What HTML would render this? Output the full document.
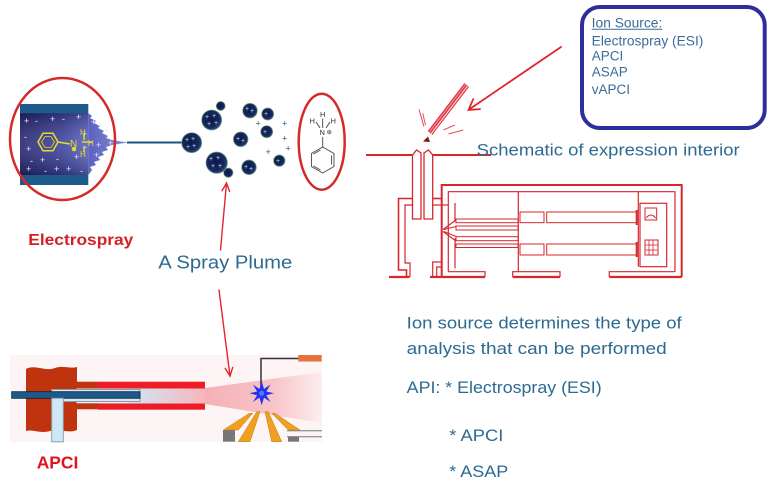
<!DOCTYPE html>
<html>
<head>
<meta charset="utf-8">
<style>
html,body{margin:0;padding:0;background:#fff;}
svg{display:block;}
</style>
</head>
<body>
<svg xmlns="http://www.w3.org/2000/svg" width="772" height="485" viewBox="0 0 772 485">
<defs>
  <linearGradient id="capBody" x1="0" y1="0" x2="1" y2="0">
    <stop offset="0" stop-color="#24246e"/>
    <stop offset="0.6" stop-color="#3a3f9a"/>
    <stop offset="1" stop-color="#5a62c0"/>
  </linearGradient>
  <linearGradient id="capV" x1="0" y1="0" x2="0" y2="1">
    <stop offset="0" stop-color="#000" stop-opacity="0.25"/>
    <stop offset="0.5" stop-color="#fff" stop-opacity="0.12"/>
    <stop offset="1" stop-color="#000" stop-opacity="0.25"/>
  </linearGradient>
  <linearGradient id="cone" x1="0" y1="0" x2="1" y2="0">
    <stop offset="0" stop-color="#5a62c0"/>
    <stop offset="1" stop-color="#8a90d8"/>
  </linearGradient>
  <radialGradient id="drop" cx="0.45" cy="0.45" r="0.55">
    <stop offset="0" stop-color="#0b1a46"/>
    <stop offset="0.75" stop-color="#13295e"/>
    <stop offset="1" stop-color="#2a4c86"/>
  </radialGradient>
  <linearGradient id="plume" x1="0" y1="0" x2="1" y2="0">
    <stop offset="0" stop-color="#f5b0b5"/>
    <stop offset="0.6" stop-color="#f8c5c9"/>
    <stop offset="1" stop-color="#fdeef0"/>
  </linearGradient>
  <linearGradient id="glow" x1="0" y1="0" x2="1" y2="0">
    <stop offset="0" stop-color="#cfe7f7"/>
    <stop offset="1" stop-color="#f6b6bb"/>
  </linearGradient>
</defs>

<rect width="772" height="485" fill="#fff"/>

<!-- ================= ESI capillary ================= -->
<rect x="20" y="104" width="68.3" height="9.5" fill="#1c5b8c"/>
<rect x="20" y="175" width="68.3" height="10" fill="#1c5b8c"/>
<rect x="20" y="113.3" width="68.3" height="61.7" fill="url(#capBody)"/>
<rect x="20" y="113.3" width="68.3" height="61.7" fill="url(#capV)"/>
<polygon points="88.3,113.3 92,116 90,118 96,121 94,123 100,126 98,128 104,131 102,133 108,136 106,138 112,140 128.3,142.5 112,145 106,147 108,150 102,152 104,155 98,157 100,160 94,162 96,165 90,167 92,170 88.3,175" fill="url(#cone)"/>
<g font-family="Liberation Sans, sans-serif" font-size="9" fill="#e4e6ff">
  <text x="24" y="124">+</text><text x="35" y="124">-</text><text x="50" y="122">+</text><text x="62" y="122">-</text>
  <text x="76" y="120">+</text><text x="91" y="125">+</text><text x="98" y="129">+</text><text x="104" y="133">+</text>
  <text x="24" y="140">-</text><text x="26" y="152">+</text><text x="30" y="164">-</text><text x="40" y="163">+</text>
  <text x="56" y="162">-</text><text x="74" y="160">+</text><text x="84" y="150">-</text><text x="96" y="148">+</text>
  <text x="108" y="146">+</text><text x="26" y="172">+</text><text x="44" y="174">-</text><text x="54" y="172">+</text>
  <text x="66" y="172">+</text><text x="80" y="174">-</text><text x="82" y="137">+</text><text x="94" y="158">+</text>
</g>
<!-- yellow aniline in capillary -->
<g stroke="#e4dc2a" stroke-width="1.5" fill="none">
  <polygon points="58,142 53,150.7 43,150.7 38,142 43,133.3 53,133.3"/>
  <polygon points="54.5,142 51,147.5 45,147.5 41.5,142 45,136.5 51,136.5" stroke-width="0.8"/>
  <line x1="58" y1="142" x2="70" y2="144"/>
  <line x1="82" y1="142" x2="92" y2="142"/>
  <line x1="84" y1="134" x2="84" y2="140"/>
  <line x1="84" y1="146" x2="84" y2="152"/>
</g>
<circle cx="74" cy="149" r="2.3" fill="#e4dc2a"/>
<g font-family="Liberation Sans, sans-serif" font-size="10" fill="#e4dc2a">
  <text x="70" y="147">N</text><text x="80" y="135" font-size="8">H</text><text x="88" y="146" font-size="8">H</text><text x="80" y="157" font-size="8">H</text>
</g>
<!-- line to droplets -->
<line x1="127" y1="142.5" x2="183" y2="142.5" stroke="#1d4f7e" stroke-width="2"/>
<!-- red ellipse around capillary -->
<ellipse cx="62.5" cy="139" rx="52.5" ry="61" fill="none" stroke="#d42a2a" stroke-width="2.5"/>

<!-- droplets -->
<g fill="url(#drop)" stroke="#7d9a7a" stroke-width="0.7">
  <circle cx="191.7" cy="142.7" r="10"/>
  <circle cx="220.7" cy="106" r="4.5"/>
  <circle cx="211.7" cy="120" r="10"/>
  <circle cx="228.3" cy="172.7" r="4.7"/>
  <circle cx="216.7" cy="162.7" r="10.7"/>
  <circle cx="250" cy="110.7" r="7.3"/>
  <circle cx="267.7" cy="114" r="6"/>
  <circle cx="240.7" cy="139.3" r="7.3"/>
  <circle cx="266.7" cy="131.7" r="6"/>
  <circle cx="249" cy="167.3" r="7.3"/>
  <circle cx="279.3" cy="160.7" r="5.7"/>
</g>
<g font-family="Liberation Sans, sans-serif" font-size="7" fill="#d8dcf0">
  <text x="185" y="142">+</text><text x="191" y="141">+</text><text x="186" y="149">+</text><text x="192" y="148">+</text>
  <text x="205" y="119">+</text><text x="212" y="118">+</text><text x="207" y="126">+</text><text x="214" y="125">+</text>
  <text x="209" y="161">+</text><text x="216" y="160">+</text><text x="211" y="168">+</text><text x="218" y="168">+</text>
  <text x="245" y="111">+</text><text x="250" y="113">+</text>
  <text x="236" y="141">+</text><text x="241" y="143">+</text>
  <text x="244" y="169">+</text><text x="249" y="171">+</text>
  <text x="264" y="116">+</text><text x="263" y="134">+</text><text x="276" y="163">+</text>
</g>
<g font-family="Liberation Sans, sans-serif" font-size="9" fill="#3a5a7a">
  <text x="255.5" y="126.5">+</text><text x="282" y="126.5">+</text><text x="282" y="141.5">+</text>
  <text x="285.5" y="151.5">+</text><text x="265.5" y="155">+</text>
</g>

<!-- aniline in right ellipse -->
<ellipse cx="321.7" cy="141.7" rx="23" ry="48" fill="none" stroke="#d42a2a" stroke-width="2.5"/>
<g font-family="Liberation Sans, sans-serif" font-size="7.5" fill="#333">
  <text x="320" y="117">H</text><text x="309.5" y="123.5">H</text><text x="330.5" y="123.5">H</text>
  <text x="319.5" y="135">N</text><text x="326.5" y="134" font-size="6.5">⊕</text>
</g>
<g stroke="#444" stroke-width="0.9" fill="none">
  <line x1="322.7" y1="118.5" x2="322.7" y2="128"/>
  <line x1="316" y1="122" x2="320" y2="128"/>
  <line x1="330" y1="122" x2="326" y2="128"/>
  <line x1="322.7" y1="137" x2="322.7" y2="147"/>
  <polygon points="322.7,147 333.96,153.5 333.96,166.5 322.7,173 311.44,166.5 311.44,153.5"/>
  <line x1="331.5" y1="155.5" x2="331.5" y2="164.5"/>
  <line x1="320.5" y1="170" x2="313.5" y2="166"/>
  <line x1="313.5" y1="154" x2="320.5" y2="150"/>
</g>

<!-- labels left -->
<text x="28.3" y="245" font-family="Liberation Sans, sans-serif" font-weight="bold" font-size="16" fill="#d42027" textLength="105" lengthAdjust="spacingAndGlyphs">Electrospray</text>
<text x="158.3" y="268.3" font-family="Liberation Sans, sans-serif" font-size="18.5" fill="#2d6a91" textLength="134" lengthAdjust="spacingAndGlyphs">A Spray Plume</text>

<!-- ================= APCI ================= -->
<rect x="10" y="355" width="312" height="87" fill="#fdf5f5"/>
<polygon points="205,388 322,372 322,423 205,404" fill="url(#plume)"/>
<path d="M26,369 C35,364 45,372 55,368 C63,365 70,369 77,367 L77,430 C68,434 60,428 50,431 C40,434 33,429 26,431 Z" fill="#c0330f"/>
<rect x="76.5" y="381.7" width="22" height="27.6" fill="#c0330f"/>
<rect x="98" y="381.7" width="107" height="6.8" fill="#ee1c24"/>
<rect x="98" y="403.3" width="107" height="6.4" fill="#ee1c24"/>
<rect x="76.5" y="388.5" width="128.5" height="14.8" fill="#e6f1f8"/>
<rect x="128" y="388.5" width="77" height="14.8" fill="url(#glow)"/>
<rect x="51.7" y="389.5" width="88.3" height="12" fill="#d6e9f5" stroke="#8a9aa8" stroke-width="1"/>
<rect x="11.7" y="391.7" width="128.3" height="6.6" fill="#1d5a8a" stroke="#0a2030" stroke-width="0.8"/>
<rect x="51.7" y="398.3" width="11.6" height="43.5" fill="#cfe8f7" stroke="#8aa0b0" stroke-width="1"/>
<!-- needle -->
<polyline points="261,393 261,358.5 298.5,358.5" fill="none" stroke="#333" stroke-width="1.5"/>
<rect x="298.3" y="355" width="23.4" height="6.5" fill="#e5733a"/>
<!-- star -->
<polygon points="261.7,381.3 264,389 270.5,384.5 266.3,391.5 274,393.3 266.3,395.3 270.5,402 264,397.6 261.7,405.3 259.4,397.6 252.9,402 257.1,395.3 249.4,393.3 257.1,391.5 252.9,384.5 259.4,389" fill="#2233ee"/>
<circle cx="261.7" cy="393.3" r="2.5" fill="#4a7cff"/>
<!-- fins -->
<g fill="#f0a020" stroke="#c07810" stroke-width="0.5">
  <polygon points="249.3,413.3 252.7,413.3 238.3,430 223.3,430"/>
  <polygon points="256.7,411.7 260,411.7 250,441.7 238.3,441.7"/>
  <polygon points="265,411.7 268.3,411.7 281.7,441.7 271.7,441.7"/>
  <polygon points="271.7,413.3 275,413.3 300,430 288.3,430"/>
</g>
<rect x="223" y="430" width="12" height="11.7" fill="#777"/>
<rect x="288" y="436.7" width="11" height="5" fill="#777"/>
<line x1="287" y1="430.7" x2="322" y2="430.7" stroke="#777" stroke-width="1"/>
<line x1="287" y1="436.7" x2="322" y2="436.7" stroke="#777" stroke-width="1"/>
<text x="36.7" y="468.3" font-family="Liberation Sans, sans-serif" font-weight="bold" font-size="17.5" fill="#e0141c" textLength="41.6" lengthAdjust="spacingAndGlyphs">APCI</text>

<!-- arrows red (drawn above APCI) -->
<g stroke="#e0262b" stroke-width="1.4" fill="none" stroke-linecap="round">
  <line x1="220.5" y1="250" x2="226.5" y2="183"/>
  <polyline points="222,190.8 226.5,183 229.6,191.5"/>
  <line x1="219" y1="290" x2="230" y2="376"/>
  <polyline points="232.7,367.4 230,376 225.2,368.4"/>
</g>

<!-- ================= Ion Source box ================= -->
<rect x="582" y="7" width="182.7" height="121" rx="18" ry="18" fill="#fff" stroke="#2d2d9c" stroke-width="4"/>
<g font-family="Liberation Sans, sans-serif" font-size="13.5" fill="#3b6c9b">
  <text x="591.7" y="27.3" textLength="70.6" lengthAdjust="spacingAndGlyphs">Ion Source:</text>
  <text x="591.7" y="45.7" textLength="111.7" lengthAdjust="spacingAndGlyphs">Electrospray (ESI)</text>
  <text x="591.7" y="60.7">APCI</text>
  <text x="591.7" y="76.7">ASAP</text>
  <text x="591.7" y="94">vAPCI</text>
</g>
<line x1="591.7" y1="29.3" x2="662.3" y2="29.3" stroke="#3b6c9b" stroke-width="1"/>

<!-- arrow to probe -->
<g stroke="#e0262b" stroke-width="1.8" fill="none" stroke-linecap="round">
  <line x1="561" y1="47" x2="469" y2="109.5"/>
  <polyline points="480,109.1 468.5,110 473.2,99.2"/>
</g>

<!-- probe -->
<line x1="466.7" y1="85" x2="430" y2="133" stroke="#e23a46" stroke-width="6"/>
<line x1="467.5" y1="86" x2="431" y2="134" stroke="#fff" stroke-width="0.9"/>
<line x1="465.5" y1="84.5" x2="429" y2="132.5" stroke="#f8d0d4" stroke-width="0.6"/>
<polygon points="423,141.5 428,136.5 430,142" fill="#8a1010"/>
<g stroke="#e05060" stroke-width="1" fill="none">
  <line x1="419" y1="109.3" x2="424" y2="126.7"/>
  <line x1="422.7" y1="113.3" x2="425.5" y2="125"/>
  <line x1="443.3" y1="130" x2="455" y2="125"/>
  <line x1="448.3" y1="134" x2="463.3" y2="130"/>
</g>

<!-- ================= Schematic ================= -->
<g stroke="#d7262e" stroke-width="1.6" fill="none" stroke-linejoin="miter">
  <line x1="366" y1="155" x2="412.5" y2="155" stroke-width="2"/>
  <line x1="432.7" y1="155" x2="491" y2="155" stroke-width="2"/>
  <path d="M412.5,219 V155 L416.5,150 L421,153 V219 Z" stroke-width="1.3"/>
  <path d="M424,219 V153 L428.5,150 L432.7,155 V219 Z" stroke-width="1.3"/>
  <path d="M412.5,198.5 H398.5 V270 H406.5 V277"/>
  <path d="M412.5,205 H405 V263 H410 V277" stroke-width="1.2"/>
  <line x1="389" y1="277" x2="409.5" y2="277" stroke-width="2.2"/>
  <path d="M432.7,198.5 H441.7"/>
  <path d="M432.7,205 H448.3" stroke-width="1.2"/>
  <path d="M441.7,262 H432.7 V277" stroke-width="1.2"/>
  <path d="M441.7,267 H436.7 V277" stroke-width="1.2"/>
  <line x1="430" y1="277" x2="441.7" y2="277" stroke-width="2.2"/>
  <path d="M441.7,277 V185 H681.7 V277" stroke-width="2"/>
  <path d="M448.3,271.7 V191.7 H675 V271.7" stroke-width="1.2"/>
  <line x1="441.7" y1="277" x2="485" y2="277" stroke-width="2.2"/>
  <line x1="512.7" y1="277" x2="560" y2="277" stroke-width="2.2"/>
  <line x1="609.3" y1="277" x2="681.7" y2="277" stroke-width="2.2"/>
  <path d="M448.3,271.7 H485 V277" stroke-width="1.2"/>
  <path d="M512.7,277 V271.7 H560 V277" stroke-width="1.2"/>
  <path d="M609.3,277 V271.7 H675" stroke-width="1.2"/>
  <line x1="518.3" y1="191.7" x2="518.3" y2="271.7" stroke-width="1.2"/>
  <line x1="638.3" y1="191.7" x2="638.3" y2="266.7" stroke-width="1.2"/>
  <line x1="455" y1="203" x2="455" y2="221.7" stroke-width="1.2"/>
  <line x1="455" y1="238.3" x2="455" y2="268.3" stroke-width="1.2"/>
  <path d="M448.3,226 L443,229.5 L456,220" stroke-width="1.1"/>
  <path d="M443,231.5 L456,241" stroke-width="1.1"/>
  <line x1="444" y1="229.5" x2="456" y2="226.5" stroke-width="1"/>
  <line x1="444" y1="231.5" x2="456" y2="236.5" stroke-width="1"/>
  <rect x="456" y="219" width="62" height="3.7" stroke-width="1"/>
  <rect x="456" y="226" width="62" height="4" stroke-width="1"/>
  <rect x="456" y="236.7" width="62" height="4" stroke-width="1"/>
  <rect x="456" y="244" width="62" height="3.5" stroke-width="1"/>
  <rect x="520" y="212" width="24" height="10.7" stroke-width="1"/>
  <rect x="546.7" y="212" width="90" height="10.7" stroke-width="1"/>
  <rect x="520" y="244" width="24" height="11" stroke-width="1"/>
  <rect x="546.7" y="244" width="90" height="11" stroke-width="1"/>
  <line x1="636.7" y1="210" x2="636.7" y2="225" stroke-width="2"/>
  <line x1="636.7" y1="242" x2="636.7" y2="257" stroke-width="2"/>
  <rect x="640" y="203.3" width="26.7" height="63.4" stroke-width="1.2"/>
  <rect x="645" y="208" width="11.7" height="12" stroke-width="1"/>
  <path d="M646,218 Q650.8,212 655.7,218" stroke-width="1"/>
  <rect x="645" y="240" width="13" height="15" stroke-width="1"/>
  <line x1="645" y1="245" x2="658" y2="245" stroke-width="0.8"/>
  <line x1="645" y1="250" x2="658" y2="250" stroke-width="0.8"/>
  <line x1="649" y1="240" x2="649" y2="255" stroke-width="0.8"/>
  <line x1="653" y1="240" x2="653" y2="255" stroke-width="0.8"/>
</g>

<text x="476.7" y="155.5" font-family="Liberation Sans, sans-serif" font-size="17" fill="#2d6a91" textLength="263" lengthAdjust="spacingAndGlyphs">Schematic of expression interior</text>

<!-- ================= bottom right text ================= -->
<g font-family="Liberation Sans, sans-serif" font-size="17" fill="#2d6a91">
  <text x="406.7" y="328.3" textLength="275" lengthAdjust="spacingAndGlyphs">Ion source determines the type of</text>
  <text x="406.7" y="353.8" textLength="260" lengthAdjust="spacingAndGlyphs">analysis that can be performed</text>
  <text x="406.7" y="393" textLength="195" lengthAdjust="spacingAndGlyphs">API: * Electrospray (ESI)</text>
  <text x="449.3" y="441" textLength="54" lengthAdjust="spacingAndGlyphs">* APCI</text>
  <text x="449.3" y="477" textLength="59" lengthAdjust="spacingAndGlyphs">* ASAP</text>
</g>
</svg>
</body>
</html>
